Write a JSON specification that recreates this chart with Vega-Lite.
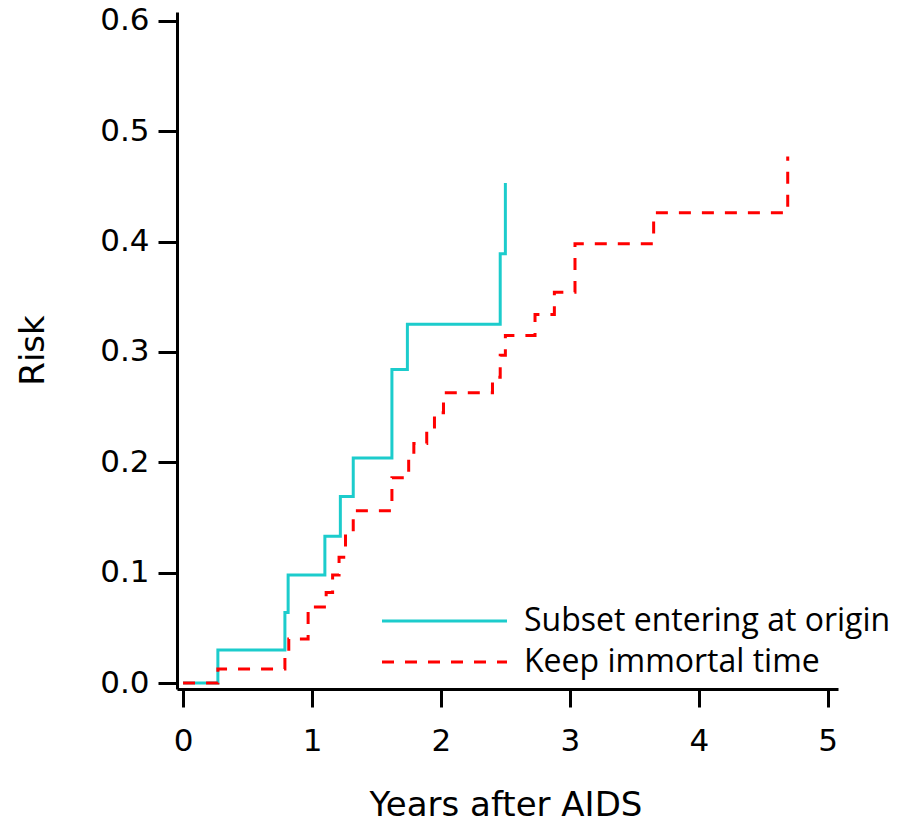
{
  "$schema": "https://vega.github.io/schema/vega-lite/v6.json",
  "autosize": {"type": "none"},
  "width": 661,
  "height": 677,
  "padding": {"left": 177, "top": 12, "right": 69, "bottom": 135},
  "background": "white",
  "config": {"view": {"stroke": null}},
  "data": {"values": [
    {"series": "Subset entering at origin", "years": 0, "risk": 0},
    {"series": "Subset entering at origin", "years": 0.27, "risk": 0.030},
    {"series": "Subset entering at origin", "years": 0.79, "risk": 0.064},
    {"series": "Subset entering at origin", "years": 0.815, "risk": 0.098},
    {"series": "Subset entering at origin", "years": 1.10, "risk": 0.133},
    {"series": "Subset entering at origin", "years": 1.22, "risk": 0.169},
    {"series": "Subset entering at origin", "years": 1.32, "risk": 0.204},
    {"series": "Subset entering at origin", "years": 1.62, "risk": 0.284},
    {"series": "Subset entering at origin", "years": 1.74, "risk": 0.325},
    {"series": "Subset entering at origin", "years": 2.46, "risk": 0.389},
    {"series": "Subset entering at origin", "years": 2.50, "risk": 0.453},
    {"series": "Keep immortal time", "years": 0, "risk": 0},
    {"series": "Keep immortal time", "years": 0.27, "risk": 0.0127},
    {"series": "Keep immortal time", "years": 0.79, "risk": 0.027},
    {"series": "Keep immortal time", "years": 0.82, "risk": 0.040},
    {"series": "Keep immortal time", "years": 0.97, "risk": 0.069},
    {"series": "Keep immortal time", "years": 1.11, "risk": 0.082},
    {"series": "Keep immortal time", "years": 1.16, "risk": 0.098},
    {"series": "Keep immortal time", "years": 1.21, "risk": 0.114},
    {"series": "Keep immortal time", "years": 1.26, "risk": 0.136},
    {"series": "Keep immortal time", "years": 1.32, "risk": 0.156},
    {"series": "Keep immortal time", "years": 1.62, "risk": 0.186},
    {"series": "Keep immortal time", "years": 1.75, "risk": 0.203},
    {"series": "Keep immortal time", "years": 1.79, "risk": 0.217},
    {"series": "Keep immortal time", "years": 1.89, "risk": 0.232},
    {"series": "Keep immortal time", "years": 1.95, "risk": 0.245},
    {"series": "Keep immortal time", "years": 2.02, "risk": 0.263},
    {"series": "Keep immortal time", "years": 2.40, "risk": 0.277},
    {"series": "Keep immortal time", "years": 2.46, "risk": 0.297},
    {"series": "Keep immortal time", "years": 2.50, "risk": 0.315},
    {"series": "Keep immortal time", "years": 2.73, "risk": 0.334},
    {"series": "Keep immortal time", "years": 2.88, "risk": 0.354},
    {"series": "Keep immortal time", "years": 3.04, "risk": 0.398},
    {"series": "Keep immortal time", "years": 3.65, "risk": 0.426},
    {"series": "Keep immortal time", "years": 4.69, "risk": 0.477}
  ]},
  "mark": {"type": "line", "interpolate": "step-after", "strokeWidth": 3, "strokeCap": "butt"},
  "encoding": {
    "x": {
      "field": "years", "type": "quantitative",
      "scale": {"domain": [-0.047, 5.08], "nice": false, "zero": false},
      "axis": {
        "values": [0, 1, 2, 3, 4, 5], "format": "d", "grid": false,
        "tickSize": 18, "tickWidth": 3, "tickColor": "black",
        "domainWidth": 3, "domainColor": "black",
        "labelFont": "DejaVu Sans", "labelFontSize": 31, "labelColor": "black",
        "labelPadding": 19, "labelOverlap": false, "labelFlush": false,
        "title": "Years after AIDS", "titleFont": "DejaVu Sans", "titleFontSize": 34,
        "titleFontWeight": "normal", "titleColor": "black",
        "titleX": 328.5, "titleY": 126, "titleBaseline": "alphabetic"
      }
    },
    "y": {
      "field": "risk", "type": "quantitative",
      "scale": {"domain": [-0.0054, 0.608], "nice": false, "zero": false},
      "axis": {
        "values": [0, 0.1, 0.2, 0.3, 0.4, 0.5, 0.6], "format": ".1f", "grid": false,
        "tickSize": 19, "tickWidth": 3, "tickColor": "black",
        "domainWidth": 3, "domainColor": "black",
        "labelFont": "DejaVu Sans", "labelFontSize": 31, "labelColor": "black",
        "labelPadding": 9, "labelOverlap": false, "labelFlush": false,
        "title": "Risk", "titleFont": "DejaVu Sans", "titleFontSize": 34,
        "titleFontWeight": "normal", "titleColor": "black",
        "titleX": -134, "titleY": 338, "titleBaseline": "alphabetic"
      }
    },
    "color": {
      "field": "series", "type": "nominal",
      "scale": {"domain": ["Subset entering at origin", "Keep immortal time"], "range": ["#1ccccc", "#ff0000"]},
      "legend": {
        "title": null, "orient": "none", "legendX": 251.5, "legendY": 593,
        "symbolType": "M-12.5,0H12.5", "symbolSize": 100, "symbolStrokeWidth": 3,
        "labelFont": "Open Sans", "labelFontSize": 32, "labelColor": "black",
        "labelOffset": 63.5, "labelLimit": 600, "rowPadding": 9
      }
    },
    "strokeDash": {
      "field": "series", "type": "nominal",
      "scale": {"domain": ["Subset entering at origin", "Keep immortal time"], "range": [[1, 0], [12, 11]]},
      "legend": {
        "title": null, "orient": "none", "legendX": 251.5, "legendY": 593,
        "symbolType": "M-12.5,0H12.5", "symbolSize": 100, "symbolStrokeWidth": 3,
        "labelFont": "Open Sans", "labelFontSize": 32, "labelColor": "black",
        "labelOffset": 63.5, "labelLimit": 600, "rowPadding": 9
      }
    }
  }
}
